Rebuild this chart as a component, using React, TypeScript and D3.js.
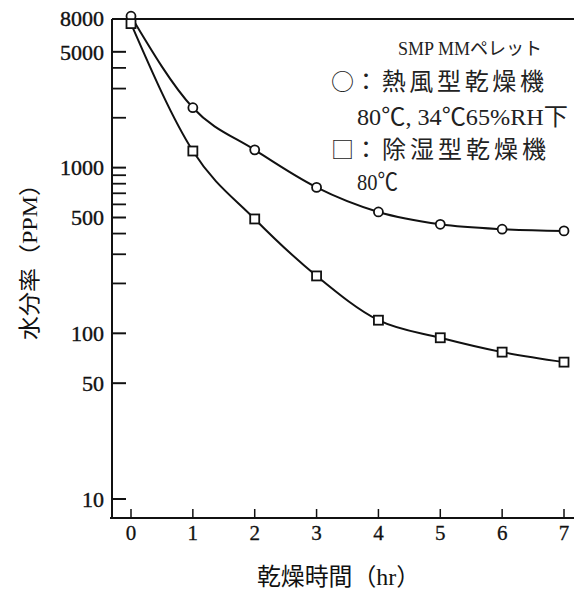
import React from "react";
import * as d3 from "d3";

const hours = [0, 1, 2, 3, 4, 5, 6, 7];
const hotAirPPM = [8200, 2300, 1280, 760, 540, 455, 425, 415];
const dehumPPM = [7400, 1260, 490, 222, 120, 94, 77, 67];
const yTickLabels = [8000, 5000, 1000, 500, 100, 50, 10];
const yMinorTicks = [4000, 3000, 2000, 900, 800, 700, 600, 400, 300, 200];
const xTickLabels = [0, 1, 2, 3, 4, 5, 6, 7];
const legendTitle = "SMP MMペレット";
const legendSymbols = ["○", "", "□", ""];
const legendLines = ["：熱風型乾燥機", "80℃, 34℃65%RH下", "：除湿型乾燥機", "80℃"];
const xTitle = "乾燥時間（hr）";
const yTitle = "水分率（PPM）";

const W = 574;
const H = 592;
const FONT = "'Liberation Serif', 'Noto Sans CJK JP', serif";
const CJK = "'Noto Sans CJK JP', sans-serif";

export default function App() {
  const x = d3.scaleLinear().domain([0, 7]).range([131, 564]);
  const y = d3.scaleLog().domain([10, 8000]).range([499, 18]);
  const axisX = 112;
  const topY = 19;
  const bottomY = 518;

  const line = d3
    .line<number>()
    .x((_, i) => x(hours[i]))
    .y((v) => y(v))
    .curve(d3.curveMonotoneX);

  const legendRows = [
    { x: 354, y: 82, len: 190, adj: "spacing" },
    { x: 357, y: 117, len: 211, adj: "spacingAndGlyphs" },
    { x: 354, y: 150, len: 192, adj: "spacing" },
    { x: 357, y: 182, len: 41, adj: "spacingAndGlyphs" },
  ];

  return (
    <svg
      width={W}
      height={H}
      style={{ position: "absolute", left: 0, top: 0, background: "#fff" }}
      fontFamily={FONT}
    >
      <rect x={0} y={0} width={W} height={H} fill="#fff" />
      {/* frame lines */}
      <line x1={axisX} x2={W} y1={topY} y2={topY} stroke="#111" strokeWidth={2} />
      <line x1={axisX} x2={axisX} y1={topY} y2={bottomY} stroke="#111" strokeWidth={2} />
      <line x1={110} x2={W} y1={bottomY} y2={bottomY} stroke="#111" strokeWidth={2} />

      {/* y ticks */}
      {yTickLabels.map((v) => (
        <g key={"yl" + v}>
          {v !== 8000 && (
            <line x1={axisX} x2={axisX + 14} y1={y(v)} y2={y(v)} stroke="#111" strokeWidth={2} />
          )}
          <text
            x={104}
            y={y(v)}
            dy="0.35em"
            textAnchor="end"
            fontSize={22}
            fill="#111"
            stroke="#111"
            strokeWidth={0.4}
          >
            {v}
          </text>
        </g>
      ))}
      {yMinorTicks.map((v) => (
        <line key={"ym" + v} x1={axisX} x2={axisX + 14} y1={y(v)} y2={y(v)} stroke="#111" strokeWidth={1.8} />
      ))}

      {/* x ticks */}
      {xTickLabels.map((h) => (
        <g key={"x" + h}>
          <line x1={x(h)} x2={x(h)} y1={bottomY} y2={bottomY - 9} stroke="#111" strokeWidth={1.5} />
          <text
            x={x(h)}
            y={533}
            dy="0.35em"
            textAnchor="middle"
            fontSize={21}
            fill="#111"
            stroke="#111"
            strokeWidth={0.3}
          >
            {h}
          </text>
        </g>
      ))}

      {/* axis titles */}
      <text
        x={257}
        y={577}
        dy="0.35em"
        fontSize={24}
        fill="#111"
        textLength={163}
        lengthAdjust="spacingAndGlyphs"
      >
        {xTitle}
      </text>
      <text
        transform="translate(29,256) rotate(-90)"
        x={-84}
        y={0}
        dy="0.35em"
        fontSize={22}
        fill="#111"
        textLength={168}
        lengthAdjust="spacingAndGlyphs"
      >
        {yTitle}
      </text>

      {/* series lines */}
      <path d={line(hotAirPPM) || ""} fill="none" stroke="#111" strokeWidth={2} />
      <path d={line(dehumPPM) || ""} fill="none" stroke="#111" strokeWidth={2} />

      {/* markers */}
      {hotAirPPM.map((v, i) => (
        <circle key={"c" + i} cx={x(hours[i])} cy={y(v)} r={4.5} fill="#fff" stroke="#111" strokeWidth={1.8} />
      ))}
      {dehumPPM.map((v, i) => (
        <rect
          key={"s" + i}
          x={x(hours[i]) - 4.5}
          y={y(v) - 4.5}
          width={9}
          height={9}
          fill="#fff"
          stroke="#111"
          strokeWidth={1.8}
        />
      ))}

      {/* legend */}
      <text
        x={398}
        y={49}
        dy="0.35em"
        fontSize={18}
        fill="#222"
        textLength={144}
        lengthAdjust="spacingAndGlyphs"
      >
        {legendTitle}
      </text>
      {legendRows.map((r, i) => (
        <g key={"lg" + i}>
          {legendSymbols[i] && (
            <text
              x={331}
              y={r.y}
              dy="0.35em"
              fontSize={23}
              fontFamily={CJK}
              fill="#222"
            >
              {legendSymbols[i]}
            </text>
          )}
          <text
            x={r.x}
            y={r.y}
            dy="0.35em"
            fontSize={24}
            fill="#222"
            textLength={r.len}
            lengthAdjust={r.adj}
          >
            {legendLines[i]}
          </text>
        </g>
      ))}
    </svg>
  );
}
